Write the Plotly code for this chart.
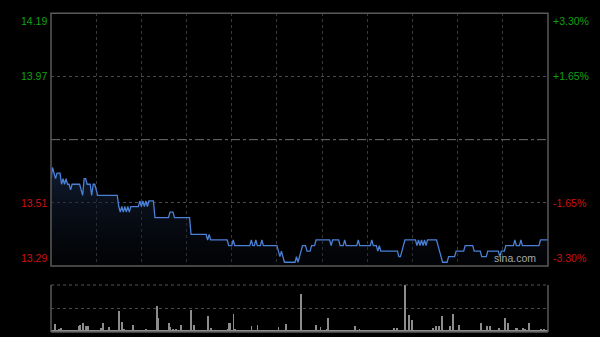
import numpy as np
import plotly.graph_objects as go

# ---------------- data ----------------
prev_close = 13.74
left_labels = ["14.19", "13.97", "13.51", "13.29"]
right_labels = ["+3.30%", "+1.65%", "-1.65%", "-3.30%"]
label_prices = [14.1934, 13.9667, 13.5133, 13.2866]

# intraday price as runs of (price, minutes)
price_runs = [
    (13.60, 1), (13.64, 1), (13.62, 1), (13.60, 1), (13.62, 3), (13.58, 1), (13.60, 1),
    (13.58, 1), (13.60, 1), (13.58, 2), (13.56, 1), (13.58, 6), (13.56, 1), (13.54, 1),
    (13.60, 2), (13.58, 3), (13.54, 1), (13.58, 2), (13.56, 1), (13.54, 14), (13.50, 1),
    (13.48, 1), (13.50, 1), (13.48, 1), (13.50, 1), (13.48, 1), (13.50, 1), (13.48, 1),
    (13.50, 6), (13.52, 1), (13.50, 1), (13.52, 1), (13.50, 1), (13.52, 1), (13.50, 1),
    (13.52, 4), (13.46, 10), (13.48, 3), (13.46, 11), (13.40, 11), (13.38, 1), (13.40, 1),
    (13.38, 12), (13.36, 3), (13.38, 1), (13.36, 11), (13.38, 1), (13.36, 2), (13.38, 1),
    (13.36, 3), (13.38, 1), (13.36, 10), (13.34, 1), (13.32, 1), (13.34, 1), (13.32, 1),
    (13.30, 8), (13.32, 1), (13.30, 1), (13.32, 1), (13.34, 1), (13.36, 3), (13.34, 3),
    (13.36, 3), (13.38, 10), (13.36, 1), (13.38, 5), (13.36, 3), (13.38, 1), (13.36, 8),
    (13.38, 1), (13.36, 8), (13.38, 1), (13.36, 3), (13.34, 1), (13.36, 1), (13.34, 12),
    (13.32, 2), (13.34, 1), (13.36, 1), (13.38, 8), (13.36, 1), (13.38, 1), (13.36, 1),
    (13.38, 1), (13.36, 1), (13.38, 1), (13.36, 1), (13.38, 7), (13.36, 1), (13.34, 1),
    (13.32, 1), (13.30, 4), (13.32, 5), (13.34, 6), (13.36, 6), (13.34, 5), (13.32, 4),
    (13.34, 8), (13.32, 1), (13.34, 3), (13.36, 6), (13.38, 1), (13.36, 3), (13.38, 1),
    (13.36, 12), (13.38, 6),
]
run_prices = [p for p, n in price_runs]
run_lengths = [n for p, n in price_runs]
prices = np.repeat(run_prices, run_lengths)
minutes = np.arange(len(prices))

# volume (relative), notable bars by minute; other minutes small
vol_base = 4
vol_minutes = [2, 3, 5, 6, 11, 18, 19, 21, 23, 24, 27, 33, 34, 38, 41, 45, 47, 48, 54, 57,
               63, 70, 71, 73, 78, 79, 81, 83, 86, 93, 95, 98, 104, 106, 117, 118, 119, 121,
               122, 133, 137, 141, 151, 156, 159, 166, 176, 179, 183, 184, 202, 205, 228,
               230, 235, 238, 240, 254, 256, 258, 260, 265, 267, 271, 280, 286, 290, 292,
               298, 302, 304, 309, 310, 314, 315, 318, 326, 328]
vol_values = [18, 5, 6, 8, 4, 13, 15, 19, 13, 12, 5, 8, 19, 10, 4, 44, 22, 6, 15, 5,
              6, 56, 30, 5, 19, 10, 6, 6, 14, 46, 15, 5, 35, 8, 6, 20, 20, 38,
              6, 12, 14, 5, 10, 18, 4, 81, 15, 10, 6, 30, 13, 6, 8,
              8, 100, 37, 26, 8, 13, 12, 33, 12, 39, 15, 4, 19, 12, 13,
              8, 30, 19, 8, 8, 8, 6, 20, 6, 6]
volume = np.full(len(prices), vol_base, dtype=float)
volume[vol_minutes] = vol_values

# ---------------- figure ----------------
W, H = 600, 337
x0, x1 = 51 / W, 548 / W
main_dom = [1 - 266 / H, 1 - 13.3 / H]
vol_dom = [1 - 332 / H, 1 - 285 / H]
ymin, ymax = label_prices[-1], label_prices[0]

fig = go.Figure()
fig.add_trace(go.Scatter(
    x=minutes, y=prices, mode="lines",
    line=dict(color="#4a80d6", width=1.3),
    fill="tozeroy",
    fillgradient=dict(type="vertical", start=ymin, stop=max(prices),
                      colorscale=[[0, "rgba(10,15,25,0.2)"], [1, "rgba(22,38,66,0.75)"]]),
    xaxis="x", yaxis="y", hoverinfo="skip",
))
fig.add_trace(go.Bar(
    x=minutes, y=volume, marker=dict(color="#8c8c8c", line=dict(width=0)),
    width=0.55, xaxis="x2", yaxis="y2", hoverinfo="skip",
))

grid_x = [30, 60, 90, 120, 150, 180, 210, 240, 270, 300]
fig.update_layout(
    width=W, height=H, margin=dict(l=0, r=0, t=0, b=0),
    paper_bgcolor="#000000", plot_bgcolor="#000000", showlegend=False,
    bargap=0,
    xaxis=dict(domain=[x0, x1], range=[0, len(prices) - 1], tickvals=grid_x,
               showticklabels=False, showgrid=True, gridcolor="#3a3a3a", griddash="dot",
               gridwidth=1, zeroline=False, showline=False, fixedrange=True),
    yaxis=dict(domain=main_dom, range=[ymin, ymax], tickvals=[label_prices[1], label_prices[2]],
               showticklabels=False, showgrid=True, gridcolor="#4a4a4a", griddash="dot",
               zeroline=False, showline=False),
    xaxis2=dict(domain=[x0, x1], range=[-0.5, len(prices) - 0.5], anchor="y2",
                showticklabels=False, showgrid=False, zeroline=False, showline=False),
    yaxis2=dict(domain=vol_dom, range=[0, 100], tickvals=[50], anchor="x2",
                showticklabels=False, showgrid=True, gridcolor="#4a4a4a", griddash="dot",
                zeroline=False, showline=False),
)

border = "#5a5a5a"
shapes = [
    # prev close line
    dict(type="line", xref="x domain", yref="y", x0=0, x1=1, y0=prev_close, y1=prev_close,
         line=dict(color="#6e6e6e", width=1, dash="dashdot")),
    # main panel border
    dict(type="rect", xref="x domain", yref="y domain", x0=0, x1=1, y0=0, y1=1,
         line=dict(color=border, width=1.5)),
    # volume panel borders
    dict(type="line", xref="x2 domain", yref="y2 domain", x0=0, x1=0, y0=0, y1=1,
         line=dict(color=border, width=1.5)),
    dict(type="line", xref="x2 domain", yref="y2 domain", x0=1, x1=1, y0=0, y1=1,
         line=dict(color=border, width=1.5)),
    dict(type="line", xref="x2 domain", yref="y2 domain", x0=0, x1=1, y0=0, y1=0,
         line=dict(color=border, width=1.5)),
    dict(type="line", xref="x2 domain", yref="y2 domain", x0=0, x1=1, y0=1, y1=1,
         line=dict(color="#555555", width=1, dash="dot")),
]
fig.update_layout(shapes=shapes)

green, red = "#13a013", "#cc1111"
anchors = ["top", "middle", "middle", "bottom"]
for lab, rlab, yv, anc in zip(left_labels, right_labels, label_prices, anchors):
    col = green if yv > prev_close else red
    fig.add_annotation(x=x0, xref="paper", y=yv, yref="y", text=lab, showarrow=False,
                       xanchor="right", yanchor=anc, xshift=-2,
                       font=dict(family="Liberation Sans, Arial", size=10.5, color=col))
    fig.add_annotation(x=x1, xref="paper", y=yv, yref="y", text=rlab, showarrow=False,
                       xanchor="left", yanchor=anc, xshift=3,
                       font=dict(family="Liberation Sans, Arial", size=10.5, color=col))

fig.add_annotation(x=x1, xref="paper", y=ymin, yref="y", text="sina.com", showarrow=False,
                   xanchor="right", yanchor="bottom", xshift=-10,
                   font=dict(family="Liberation Sans, Arial", size=10.5, color="#a8a8a8"))

fig.write_html("out.html")
